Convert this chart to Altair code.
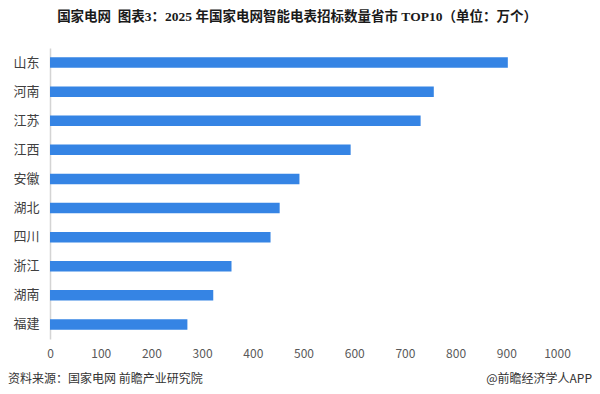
import altair as alt
import pandas as pd

provinces = ["山东", "河南", "江苏", "江西", "安徽", "湖北", "四川", "浙江", "湖南", "福建"]
values = [903, 757, 731, 593, 492, 453, 435, 358, 322, 271]
x_ticks = [0, 100, 200, 300, 400, 500, 600, 700, 800, 900, 1000]

title_text = "国家电网\u00a0\u00a0图表3：2025 年国家电网智能电表招标数量省市 TOP10（单位：万个）"
source_text = "资料来源：国家电网 前瞻产业研究院"
brand_text = "@前瞻经济学人APP"

df = pd.DataFrame({"province": provinces, "value": values})

FONT = "Noto Sans CJK SC"
TITLE_FONT = "Liberation Serif, Noto Sans CJK SC"

bars = alt.Chart(df).mark_bar(color="#3584e4").encode(
    x=alt.X("value:Q",
            scale=alt.Scale(domain=[0, 1000], nice=False),
            axis=alt.Axis(values=x_ticks, format="d", domain=False, ticks=False, grid=False,
                          labelFlush=False, labelOverlap=False,
                          labelPadding=9, labelFontSize=12, labelColor="#595959",
                          labelFont=FONT, title=None)),
    y=alt.Y("province:N", sort=provinces,
            scale=alt.Scale(paddingInner=0.64, paddingOuter=0.32),
            axis=alt.Axis(domain=True, domainColor="#d4d4d4", domainWidth=1.5,
                          ticks=False, grid=False, labelPadding=11, labelFontSize=13,
                          labelColor="#404040", labelFont=FONT, title=None)),
)

def text_layer(txt, x, y, size, align, weight="normal", color="#333333", font=FONT):
    return alt.Chart(pd.DataFrame({"t": [txt]})).mark_text(
        align=align, baseline="middle", fontSize=size, font=font,
        fontWeight=weight, color=color
    ).encode(text="t:N", x=alt.value(x), y=alt.value(y))

title = text_layer(title_text, 247, -31, 13.5, "center", weight="bold",
                   color="#1a1a1a", font=TITLE_FONT)
source = text_layer(source_text, -42, 331, 12, "left", color="#333333")
brand = text_layer(brand_text, 542, 331, 12, "right", color="#333333")

chart = alt.layer(bars, title, source, brand).properties(
    width=507, height=291,
    autosize=alt.AutoSizeParams(type="none"),
    padding={"left": 42, "top": 40, "right": 35, "bottom": 47},
).configure_view(stroke=None)

chart.save("out.html", embed_options={"renderer": "svg", "actions": False})
